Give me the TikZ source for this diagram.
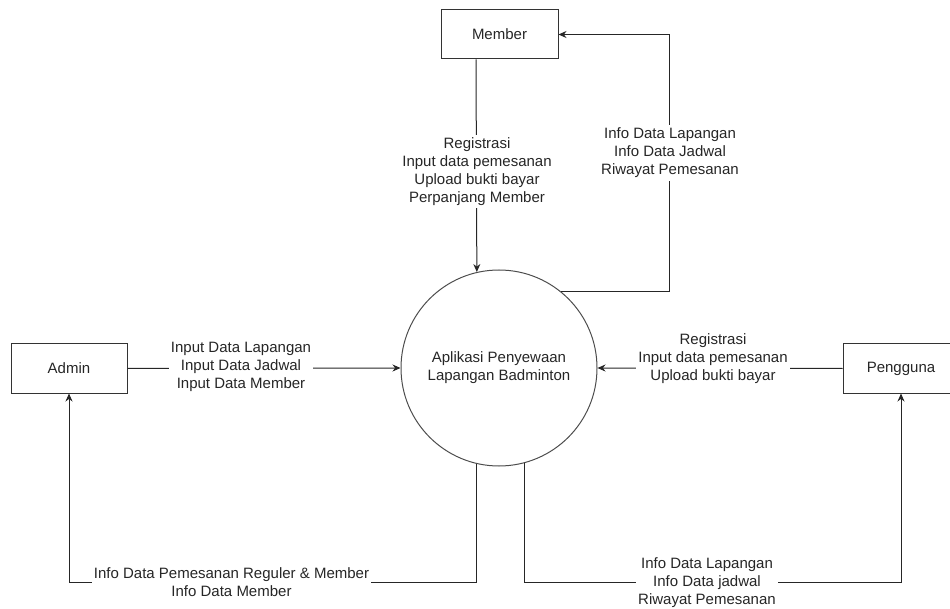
\documentclass[tikz,border=0pt]{standalone}
\usepackage{fontspec}
\setmainfont{Liberation Sans}
\usetikzlibrary{arrows.meta,calc}
\begin{document}
\begin{tikzpicture}[x=1pt,y=-1pt,
  every node/.style={font=\fontsize{15}{18}\selectfont, text=black!85},
  entity/.style={draw=black!80, line width=1pt, minimum width=116pt, minimum height=49pt, inner sep=0pt},
  process/.style={draw=black!70, line width=1pt, circle, minimum size=196pt, inner sep=0pt, align=center},
  flow/.style={draw=black!85, line width=1pt},
  tip/.style={-{Stealth[length=8pt,width=7pt]}},
  flowlabel/.style={fill=white, align=center, inner xsep=2pt, inner ysep=3pt}]
\useasboundingbox (0,0) rectangle (950,609);

% process and external entities
\node[process] (app) at (499,368) {Aplikasi Penyewaan\\Lapangan Badminton};
\node[entity, minimum width=117pt] (member) at (499.5,34.5) {Member};
\node[entity] (admin) at (69,368.5) {Admin};
\node[entity] (pengguna) at (901,368.5) {Pengguna};

% routing helpers
\coordinate (mdn) at (476,0);
\coordinate (mret) at (669,0);
\coordinate (bot) at (0,582);

% data flows
\draw[flow,tip] (member.south -| mdn) -- (app.103.6);
\draw[flow,tip] (app.51.5) -| (mret |- member.east) -- (member.east);
\draw[flow,tip] (admin.east) -- (app.west);
\draw[flow,tip] (pengguna.west) -- (app.east);
\draw[flow,tip] (app.-103.6) |- (admin.south |- bot) -- (admin.south);
\draw[flow,tip] (app.-75.8) |- (pengguna.south |- bot) -- (pengguna.south);

% flow labels
\node[flowlabel] (lmember) at (477,171.5) {Registrasi\\Input data pemesanan\\Upload bukti bayar\\Perpanjang Member};
\node[flowlabel] (lmemberout) at (670,153) {Info Data Lapangan\\Info Data Jadwal\\Riwayat Pemesanan};
\node[flowlabel] (ladmin) at (241,367) {Input Data Lapangan\\Input Data Jadwal\\Input Data Member};
\node[flowlabel] (lpengguna) at (713,359) {Registrasi\\Input data pemesanan\\Upload bukti bayar};
\node[flowlabel] (ladminout) at (231.5,582) {Info Data Pemesanan Reguler \& Member\\Info Data Member};
\node[flowlabel] (lpenggunaout) at (707,583) {Info Data Lapangan\\Info Data jadwal\\Riwayat Pemesanan};
\end{tikzpicture}
\end{document}
